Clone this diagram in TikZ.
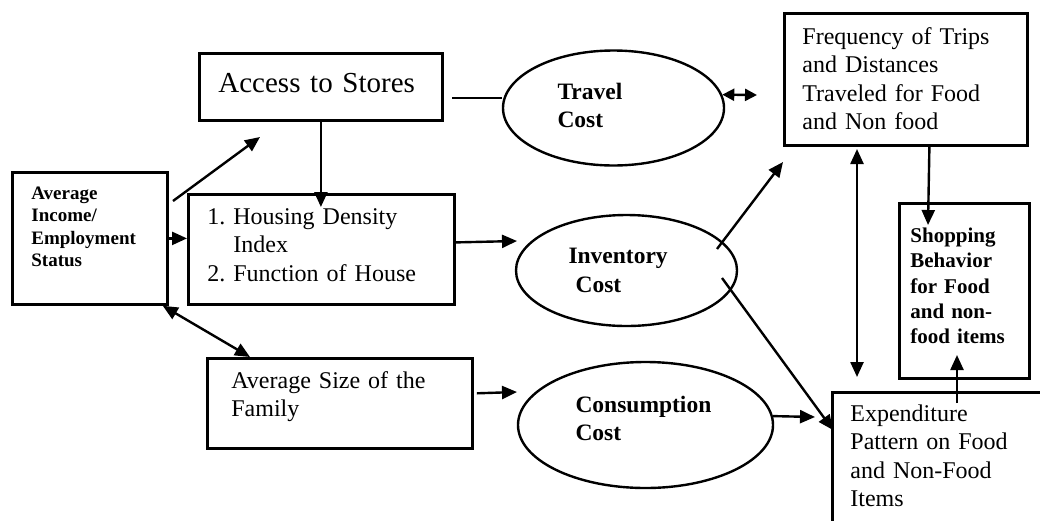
\documentclass[tikz,border=0pt]{standalone}
\usepackage{fontspec}
\setmainfont{Liberation Serif}
\usetikzlibrary{arrows.meta,shapes.geometric}

\begin{document}
\begin{tikzpicture}[x=1pt,y=-1pt,
		box/.style={ % text boxes, text set from the top left
			draw, line width=2.8pt, rectangle, anchor=north west,
			align=left, inner ysep=0pt,
			font=\fontsize{24}{28.5}\selectfont
		},
		cost/.style={ % the three cost ellipses
			draw, ellipse, line width=2.4pt, inner sep=0pt, align=left,
			font=\bfseries\fontsize{23.5}{28.5}\selectfont
		},
		arr/.style={-{Triangle[length=15pt,width=13pt]}, line width=2.4pt},
		dbl/.style={{Triangle[length=15pt,width=13pt]}-{Triangle[length=15pt,width=13pt]}, line width=2.4pt}
		]
		\useasboundingbox (0,0) rectangle (1040,520);

		%% boxes
		\node[box, text width=205pt, inner xsep=19pt, text height=39pt, text depth=28pt,
			font=\fontsize{29}{34}\selectfont] (access) at (198,52) {Access to Stores};
		\node[box, text width=117pt, inner xsep=19pt, text height=27pt, text depth=105pt,
			font=\bfseries\fontsize{19}{22.5}\selectfont] (income) at (11,171)
			{Average\\Income/\\Employment\\Status};
		\node[box, text width=228pt, inner xsep=19pt, text height=30pt, text depth=80pt] (housing) at (187,193)
			{1.\ Housing Density\\\hphantom{1.\ }Index\\2.\ Function of House};
		\node[box, text width=217pt, inner xsep=24pt, text height=30pt, text depth=60pt] (family) at (206,357)
			{Average Size of the\\Family};
		\node[box, text width=207pt, inner xsep=18pt, text height=31pt, text depth=101pt] (freq) at (783,12)
			{Frequency of Trips\\and Distances\\Traveled for Food\\and Non food};
		\node[box, text width=108pt, inner xsep=11pt, text height=39pt, text depth=136pt,
			font=\bfseries\fontsize{21}{25.3}\selectfont] (shop) at (898,202)
			{Shopping\\Behavior\\for Food\\and non-\\food items};
		\node[box, text width=204pt, inner xsep=18pt, text height=29pt, text depth=131pt] (expend) at (831,391)
			{Expenditure\\Pattern on Food\\and Non-Food\\Items};

		%% ellipses
		\node[cost, minimum width=221pt, minimum height=115pt, text width=112pt,
			text height=20pt, text depth=38pt] (travel) at (613.5,108) {Travel\\Cost};
		\node[cost, minimum width=221pt, minimum height=111pt, text width=116pt,
			text height=20pt, text depth=34pt] (inventory) at (626.5,270.5) {Inventory\\\hspace*{0.3em}Cost};
		\node[cost, minimum width=255pt, minimum height=126pt, text width=140pt,
			text height=20pt, text depth=46pt] (consumption) at (645.5,425) {Consumption\\Cost};

		% free ends of the arrows
		\coordinate (accR) at (452,98);
		\coordinate (trvR) at (757,95);
		\coordinate (incU) at (173,201);
		\coordinate (accL) at (260,137);
		\coordinate (invL) at (517,241);
		\coordinate (conL) at (517,392);
		\coordinate (invU) at (717,249);
		\coordinate (freqL) at (783,162);
		\coordinate (invD) at (722,278);
		\coordinate (expL) at (833,430);
		\coordinate (conR) at (815,417);
		\coordinate (vTop) at (857,149);
		\coordinate (vBot) at (857,377);
		\coordinate (shopT) at (928,225);
		\coordinate (expT) at (957,403);
		\coordinate (shopB) at (957,355);

		% arrows
		\draw[line width=2.4pt] (accR) -- (accR -| travel.west);
		\draw[{Triangle[length=12pt,width=12pt]}-{Triangle[length=12pt,width=12pt]}, line width=2.4pt]
			(travel.7) -- (trvR);
		\draw[arr] (incU) -- (accL);
		\draw[arr] (income.east) -- (income.east -| housing.west);
		\draw[dbl] ([xshift=-6pt]income.south east) -- ([xshift=44pt]family.north west);
		\draw[arr, shorten >=-14pt] (access.south) -- (access.south |- housing.north);
		\draw[arr] ([yshift=7pt]housing.east) -- (invL);
		\draw[arr, shorten <=3pt] ([yshift=10pt]family.east) -- (conL);
		\draw[arr] (invU) -- (freqL);
		\draw[arr] (invD) -- (expL);
		\draw[arr] (consumption.4) -- (conR);
		\draw[dbl] (vTop) -- (vBot);
		\draw[arr] ([xshift=23.5pt]freq.south) -- (shopT);
		\draw[arr] (expT) -- (shopB);
	\end{tikzpicture}
\end{document}
